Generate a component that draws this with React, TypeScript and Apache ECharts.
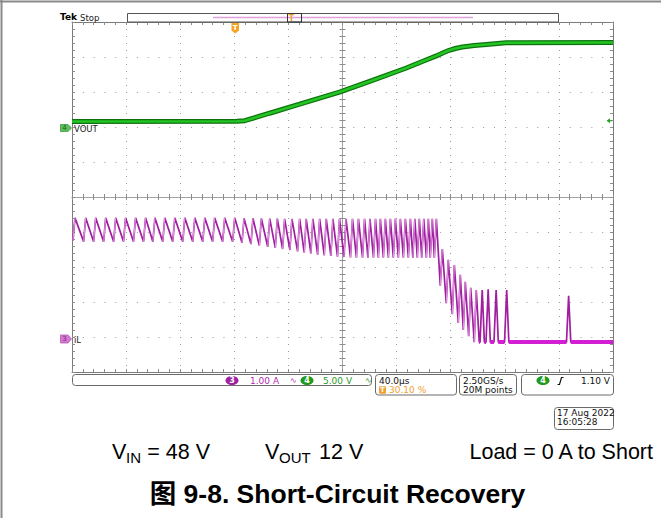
import React, { useEffect, useRef } from 'react';
import * as echarts from 'echarts';

// Time axis: 40 µs/div, 10 divisions (µs from the left edge of the screen)
const timeRange = [0, 400];
// VOUT: 5 V/div, ground marker 1.97 div above centre
const voutRange = [-34.857, 15.143];
// iL: 1 A/div, ground marker 4.09 div below centre
const iLRange = [-0.914, 9.086];

const voutTimes = [0, 121.8, 127.7, 146.1, 168.3, 197.8, 222.1, 247.2, 259.0, 269.4, 274.5, 278.9, 283.4, 288.6, 297.4, 308.5, 321.0, 400];
const voutValues = [0.93, 0.96, 1.04, 2.11, 3.4, 5.14, 6.79, 8.57, 9.5, 10.3, 10.75, 11.1, 11.36, 11.57, 11.79, 11.97, 12.17, 12.21];

const iLToothTimes = [2.2, 10.1, 17.5, 24.9, 32.3, 39.6, 47.0, 54.4, 61.3, 68.6, 76.0, 83.4, 90.8, 98.2, 105.5, 112.9, 120.3,
  127.2, 133.8, 140.0, 146.2, 151.8, 157.2, 162.6, 168.3, 173.2, 178.1, 183.1, 188.0, 192.9,
  197.8, 202.6, 207.4, 211.8, 216.3, 220.3, 224.4, 228.0, 231.7, 235.4, 239.1, 242.8, 246.5, 250.2, 253.5, 256.8, 260.1, 263.5, 266.4, 269.4,
  273.8, 278.2, 282.7, 287.1, 290.8, 294.8, 298.9];
const iLPeaks = [3.49, 3.49, 3.49, 3.49, 3.49, 3.49, 3.49, 3.49, 3.49, 3.49, 3.49, 3.49, 3.49, 3.49, 3.49, 3.49, 3.49,
  3.48, 3.48, 3.47, 3.47, 3.47, 3.46, 3.46, 3.46, 3.46, 3.46, 3.46, 3.46, 3.46,
  3.46, 3.46, 3.46, 3.46, 3.46, 3.46, 3.46, 3.46, 3.46, 3.46, 3.46, 3.46, 3.46, 3.46, 3.46, 3.46, 3.46, 3.46, 3.46, 3.46,
  2.6, 2.29, 2.14, 1.86, 1.66, 1.49, 1.43];
const iLValleys = [2.84, 2.81, 2.81, 2.81, 2.81, 2.81, 2.81, 2.81, 2.81, 2.81, 2.81, 2.81, 2.81, 2.81, 2.81, 2.81, 2.81,
  2.78, 2.74, 2.70, 2.66, 2.63, 2.60, 2.57, 2.53, 2.50, 2.47, 2.44, 2.42, 2.40,
  2.38, 2.37, 2.36, 2.35, 2.35, 2.35, 2.35, 2.35, 2.35, 2.35, 2.35, 2.35, 2.35, 2.35, 2.35, 2.35, 2.35, 2.35, 2.35, 2.35,
  1.55, 1.05, 0.74, 0.49, 0.29, 0.11, -0.06];
const iLPulseTimes = [303.3, 307.7, 313.6, 321.4, 367.2];
const iLPulsePeaks = [1.43, 1.45, 1.43, 1.43, 1.26];
const iLFloor = -0.06;

const statusCh3 = '1.00 A';
const statusCh4 = '5.00 V';
const horizScale = '40.0µs';
const triggerPos = '30.10 %';
const sampleRate = '2.50GS/s';
const recordLen = '20M points';
const trigLevel = '1.10 V';

const SCOPE_FONT = '"DejaVu Sans", sans-serif';
const DOC_FONT = '"Liberation Sans", Arial, "Noto Sans CJK SC", sans-serif';

function buildOption() {
  const vout = voutTimes.map((t, i) => [t, voutValues[i]]);
  const RISE = 1.5;
  const HALF = 1.6;
  const main: any[] = [];
  const rise: any[] = [];
  iLToothTimes.forEach((t, i) => {
    main.push([t - RISE, iLValleys[i]], [t, iLPeaks[i]]);
    rise.push([t - RISE, iLValleys[i]], [t, iLPeaks[i]], [t, '-']);
  });
  const last = iLToothTimes[iLToothTimes.length - 1];
  main.push([last + 2.2, iLFloor]);
  const floor: any[] = [[last + 2.2, iLFloor]];
  iLPulseTimes.forEach((t, i) => {
    main.push([t - HALF, iLFloor], [t, iLPulsePeaks[i]], [t + HALF, iLFloor]);
    floor.push([t - HALF, iLFloor], [t, '-'], [t + HALF, iLFloor]);
  });
  main.push([timeRange[1], iLFloor]);
  floor.push([timeRange[1], iLFloor]);

  const tickC = '#8c8c8c';
  const gratAxis = (extra: any) => ({
    type: 'value', min: -5, max: 5, interval: 1,
    axisLabel: { show: false },
    axisTick: { show: true, inside: true, length: 3, lineStyle: { color: tickC } },
    minorTick: { show: true, splitNumber: 5, length: 3, lineStyle: { color: tickC } },
    splitLine: { show: false },
    ...extra,
  });

  const txt = (x: number, y: number, text: string, o: any = {}) => ({
    type: 'text', x, y, silent: true,
    style: {
      text, fill: o.fill || '#111', fontSize: o.size || 9, fontFamily: o.family || SCOPE_FONT,
      fontWeight: o.weight || 'normal', align: o.align || 'left', verticalAlign: 'middle',
    },
    z: 10,
  });
  const badge = (cx: number, cy: number, label: string, color: string) => [
    { type: 'ellipse', shape: { cx, cy, rx: 6.5, ry: 4.6 }, style: { fill: color }, z: 10, silent: true },
    txt(cx, cy + 0.3, label, { fill: '#fff', size: 8, weight: 'bold', align: 'center' }),
  ];
  const box = (x: number, y: number, w: number, h: number) => ({
    type: 'rect', shape: { x, y, width: w, height: h, r: 3 }, style: { fill: '#fff', stroke: '#6a6a6a', lineWidth: 1 }, z: 9, silent: true,
  });

  const graphics: any[] = [
    // document frame
    { type: 'line', shape: { x1: 0, y1: 1.5, x2: 661, y2: 1.5 }, style: { stroke: '#8a8a8a', lineWidth: 2 }, silent: true },
    { type: 'line', shape: { x1: 1.5, y1: 0, x2: 1.5, y2: 518 }, style: { stroke: '#8a8a8a', lineWidth: 2 }, silent: true },
    // Tek Stop
    txt(60, 17, 'Tek', { size: 9, weight: 'bold', fill: '#000' }),
    txt(80, 17.5, 'Stop', { size: 8.5, fill: '#222' }),
    // record bar
    { type: 'rect', shape: { x: 127.5, y: 13.5, width: 431, height: 8.5 }, style: { fill: '#fff', stroke: '#555', lineWidth: 1 }, z: 9, silent: true },
    { type: 'line', shape: { x1: 213, y1: 17.5, x2: 473, y2: 17.5 }, style: { stroke: '#df9fdf', lineWidth: 1.6 }, z: 10, silent: true },
    { type: 'rect', shape: { x: 287.5, y: 13.5, width: 14, height: 8.5 }, style: { fill: 'none', stroke: '#333', lineWidth: 1 }, z: 10, silent: true },
    txt(291.5, 18, 'T', { size: 8, weight: 'bold', fill: '#f0a030', align: 'center' }),
    // trigger position marker
    { type: 'polygon', shape: { points: [[231.5, 23], [239, 23], [239, 30.5], [235.2, 33.5], [231.5, 30.5]] }, style: { fill: '#f5a224' }, z: 10, silent: true },
    txt(235.2, 28, 'T', { size: 7, weight: 'bold', fill: '#fff', align: 'center' }),
    // channel markers
    { type: 'polygon', shape: { points: [[60.5, 124.5], [68, 124.5], [71.5, 128], [68, 131.5], [60.5, 131.5]] }, style: { fill: '#5cbf5c', stroke: '#3b9b3b', lineWidth: 0.8 }, z: 10, silent: true },
    txt(64.5, 128.3, '4', { size: 7, fill: '#1d5e1d', align: 'center' }),
    txt(74, 128.5, 'VOUT', { size: 8.5, fill: '#222' }),
    { type: 'polygon', shape: { points: [[60.5, 335], [68, 335], [71.5, 339], [68, 343], [60.5, 343]] }, style: { fill: '#d47ad4', stroke: '#b85cb8', lineWidth: 0.8 }, z: 10, silent: true },
    txt(64.5, 339.3, '3', { size: 7, fill: '#7a2a7a', align: 'center' }),
    txt(74, 339.5, 'iL', { size: 8.5, fill: '#222' }),
    // trigger level arrow
    { type: 'polygon', shape: { points: [[606.5, 120.8], [610, 118.3], [610, 123.3]] }, style: { fill: '#2aa02a' }, z: 10, silent: true },
    { type: 'line', shape: { x1: 609, y1: 120.8, x2: 612, y2: 120.8 }, style: { stroke: '#2aa02a', lineWidth: 1 }, z: 10, silent: true },
    // status bar
    box(72.5, 374.5, 299, 11),
    ...badge(232, 380.5, '3', '#a11fa1'),
    txt(250, 381, statusCh3, { fill: '#b02cb0' }),
    txt(290, 380.5, '∿', { fill: '#b02cb0', size: 8 }),
    ...badge(307, 380.5, '4', '#1f9a1f'),
    txt(323, 381, statusCh4, { fill: '#2a9a2a' }),
    txt(365, 380.5, '∿', { fill: '#2a9a2a', size: 8 }),
    box(375.5, 374.5, 81, 20.5),
    txt(379, 381, horizScale),
    { type: 'rect', shape: { x: 379, y: 386.2, width: 7, height: 7.6, r: 1 }, style: { fill: '#f0a030' }, z: 10, silent: true },
    txt(382.5, 390.2, 'T', { fill: '#fff', size: 6.5, weight: 'bold', align: 'center' }),
    txt(389, 390.2, triggerPos, { fill: '#f0a030' }),
    box(459.5, 374.5, 57, 20.5),
    txt(463, 381, sampleRate),
    txt(463, 390.2, recordLen),
    box(521.5, 374.5, 92, 20.5),
    ...badge(543, 380.5, '4', '#1f9a1f'),
    { type: 'polyline', shape: { points: [[557.5, 384.5], [559.5, 384.5], [561.5, 377.5], [563.5, 377.5]] }, style: { stroke: '#111', lineWidth: 1.2, fill: null }, z: 10, silent: true },
    txt(610, 381, trigLevel, { align: 'right' }),
    box(554.5, 407.5, 59, 22),
    txt(557, 413.3, '17 Aug 2022'),
    txt(557, 422.3, '16:05:28'),
    // conditions line
    txt(112, 452, 'V', { family: DOC_FONT, size: 21.5, fill: '#000' }),
    txt(126, 457.5, 'IN', { family: DOC_FONT, size: 15, fill: '#000' }),
    txt(210, 452, '= 48 V', { family: DOC_FONT, size: 21.5, fill: '#000', align: 'right' }),
    txt(265, 452, 'V', { family: DOC_FONT, size: 21.5, fill: '#000' }),
    txt(279, 457.5, 'OUT', { family: DOC_FONT, size: 15, fill: '#000' }),
    txt(319, 452, '12 V', { family: DOC_FONT, size: 21.5, fill: '#000' }),
    txt(653, 452, 'Load = 0 A to Short', { family: DOC_FONT, size: 21.5, fill: '#000', align: 'right' }),
    // caption
    txt(337.5, 494, '图 9-8. Short-Circuit Recovery', { family: DOC_FONT, size: 26.5, weight: 'bold', fill: '#000', align: 'center' }),
  ];

  return {
    animation: false,
    backgroundColor: '#fff',
    grid: { left: 72, top: 22, width: 541, height: 350, show: false },
    xAxis: [
      gratAxis({ position: 'bottom', axisLine: { show: true, onZero: false, lineStyle: { color: '#7a7a7a' } },
        splitLine: { show: true, lineStyle: { color: '#9a9a9a', type: [1, 6], width: 1 } } }),
      gratAxis({ position: 'top', axisLine: { show: true, onZero: false, lineStyle: { color: '#7a7a7a' } } }),
      gratAxis({ position: 'bottom', axisLine: { show: true, onZero: true, onZeroAxisIndex: 0, lineStyle: { color: '#a0a0a0' } } }),
      gratAxis({ position: 'bottom', axisLine: { show: true, onZero: true, onZeroAxisIndex: 0, lineStyle: { color: '#a0a0a0' } },
        axisTick: { show: true, inside: false, length: 3, lineStyle: { color: tickC } } }),
      { type: 'value', min: timeRange[0], max: timeRange[1], show: false, position: 'bottom', axisLine: { onZero: false } },
    ],
    yAxis: [
      gratAxis({ position: 'left', axisLine: { show: true, onZero: false, lineStyle: { color: '#7a7a7a' } },
        splitLine: { show: true, lineStyle: { color: '#9a9a9a', type: [1, 9.82], width: 1 } } }),
      gratAxis({ position: 'right', axisLine: { show: true, onZero: false, lineStyle: { color: '#7a7a7a' } } }),
      gratAxis({ position: 'left', axisLine: { show: true, onZero: true, onZeroAxisIndex: 0, lineStyle: { color: '#a0a0a0' } } }),
      gratAxis({ position: 'left', axisLine: { show: true, onZero: true, onZeroAxisIndex: 0, lineStyle: { color: '#a0a0a0' } },
        axisTick: { show: true, inside: false, length: 3, lineStyle: { color: tickC } } }),
      { type: 'value', min: voutRange[0], max: voutRange[1], show: false, position: 'left', axisLine: { onZero: false } },
      { type: 'value', min: iLRange[0], max: iLRange[1], show: false, position: 'left', axisLine: { onZero: false } },
    ],
    series: [
      { type: 'line', name: 'VOUT edge', xAxisIndex: 4, yAxisIndex: 4, data: vout, showSymbol: false, silent: true,
        lineStyle: { color: '#0c730c', width: 5 }, z: 3 },
      { type: 'line', name: 'VOUT', xAxisIndex: 4, yAxisIndex: 4, data: vout, showSymbol: false, silent: true,
        lineStyle: { color: '#24c424', width: 2.6 }, z: 4 },
      { type: 'line', name: 'iL', xAxisIndex: 4, yAxisIndex: 5, data: main, showSymbol: false, silent: true,
        lineStyle: { color: '#a01ea0', width: 1.7 }, z: 3 },
      { type: 'line', name: 'iL rise', xAxisIndex: 4, yAxisIndex: 5, data: rise, showSymbol: false, silent: true,
        connectNulls: false, lineStyle: { color: '#e29be2', width: 1 }, z: 4 },
      { type: 'line', name: 'iL floor', xAxisIndex: 4, yAxisIndex: 5, data: floor, showSymbol: false, silent: true,
        connectNulls: false, lineStyle: { color: '#d41ed4', width: 4 }, z: 4 },
    ],
    graphic: { elements: graphics },
  };
}

export default function App() {
  const ref = useRef<HTMLDivElement>(null);
  useEffect(() => {
    if (!ref.current) return;
    const chart = echarts.init(ref.current, null, { renderer: 'svg' });
    chart.setOption(buildOption() as any);
    return () => chart.dispose();
  }, []);
  return (
    <div
      ref={ref}
      style={{ position: 'fixed', left: 0, top: 0, width: 661, height: 518, background: '#fff' }}
    />
  );
}
